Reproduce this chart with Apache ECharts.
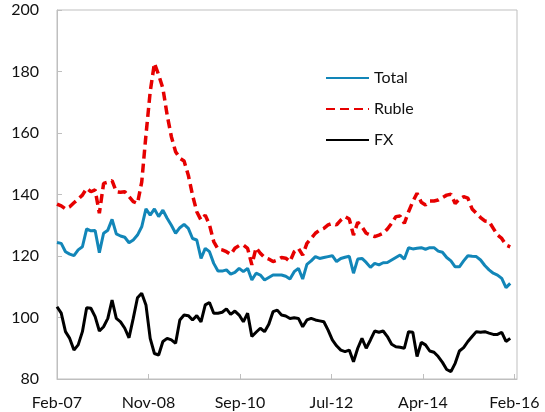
<!DOCTYPE html>
<html>
<head>
<meta charset="utf-8">
<script src="https://cdn.jsdelivr.net/npm/echarts@6/dist/echarts.min.js"></script>
<style>
  html, body { margin: 0; padding: 0; background: #fff; }
  #chart1 { width: 545px; height: 412px; }
</style>
</head>
<body>
<div id="chart1"></div>
<script>
// monthly, Feb-07 .. Jan-16 (index 0 = Feb-07)
const tickLabels = ['Feb-07', 'Nov-08', 'Sep-10', 'Jul-12', 'Apr-14', 'Feb-16'];
const tickStep = 21.6; // months between labels

const total = [
  124.4, 124.1, 121.4, 120.6, 120.1, 122.0, 123.0, 128.8, 128.2, 128.3,
  121.1, 127.4, 128.4, 131.9, 127.2, 126.5, 126.1, 124.3, 125.2, 126.8,
  129.5, 135.3, 133.3, 135.3, 132.8, 134.9, 132.3, 130.0, 127.4, 129.2,
  130.3, 129.0, 125.7, 125.2, 119.2, 122.5, 121.4, 117.6, 115.1, 115.1,
  115.5, 114.1, 114.7, 116.0, 114.9, 116.0, 112.2, 114.4, 113.8, 112.2,
  113.0, 113.8, 113.8, 113.8, 113.4, 112.5, 114.9, 116.0, 112.5, 117.3,
  118.4, 119.8, 119.2, 119.5, 119.8, 120.1, 118.2, 119.2, 119.6, 119.9,
  114.4, 119.0, 119.2, 117.9, 116.3, 117.6, 117.1, 117.8, 117.9, 118.7,
  119.5, 120.3, 119.0, 122.7, 122.3, 122.5, 122.7, 122.2, 122.7, 122.7,
  121.6, 121.2, 119.5, 118.4, 116.5, 116.5, 118.4, 120.1, 119.9, 119.8,
  118.7, 116.9, 115.5, 114.4, 113.8, 112.7, 109.7, 111.1
];

const ruble = [
  136.9, 136.3, 135.3, 136.0, 137.3, 138.5, 139.8, 142.0, 140.9, 141.5,
  133.9, 143.6, 144.0, 144.5, 140.9, 140.7, 140.9, 139.3, 137.7, 137.1,
  144.0, 159.3, 173.4, 182.7, 178.9, 174.5, 165.9, 158.8, 153.9, 151.8,
  150.9, 146.3, 139.8, 134.4, 131.7, 133.3, 130.1, 124.7, 122.3, 122.0,
  121.4, 120.5, 122.5, 123.4, 123.6, 122.5, 117.1, 122.7, 120.9, 119.5,
  119.0, 118.2, 118.7, 119.5, 119.3, 118.2, 121.4, 122.5, 120.3, 124.1,
  125.7, 127.4, 128.4, 129.0, 130.1, 130.6, 130.1, 131.7, 132.8, 132.0,
  126.8, 131.0, 129.5, 127.4, 126.8, 126.3, 126.8, 127.4, 128.8, 130.6,
  132.8, 133.0, 130.6, 134.4, 137.7, 140.4, 137.5, 136.6, 137.9, 137.9,
  138.2, 139.0, 139.8, 140.1, 137.1, 138.5, 139.3, 138.8, 135.3, 133.9,
  132.5, 131.4, 131.2, 129.0, 126.8, 125.7, 123.6, 123.0
];

const fx = [
  103.5, 101.4, 95.4, 93.2, 89.4, 91.1, 95.4, 103.2, 103.0, 100.3,
  95.6, 97.0, 99.7, 105.7, 99.7, 98.6, 96.5, 93.4, 99.7, 106.4,
  107.9, 104.1, 93.2, 88.3, 87.8, 92.2, 93.2, 92.7, 91.6, 99.2,
  100.8, 100.6, 99.2, 100.6, 98.6, 104.1, 104.9, 101.4, 101.4, 101.7,
  102.8, 101.0, 102.1, 100.8, 98.6, 101.4, 93.8, 95.2, 96.5, 95.4,
  97.8, 101.9, 102.4, 100.8, 100.5, 99.7, 99.9, 99.7, 97.0, 99.2,
  99.7, 99.2, 98.9, 98.6, 95.9, 92.7, 90.8, 89.4, 88.9, 89.4,
  85.6, 90.0, 93.2, 90.0, 92.7, 95.6, 95.2, 95.6, 93.8, 91.3,
  90.5, 90.3, 90.0, 95.4, 95.2, 87.3, 91.9, 91.1, 89.1, 88.7,
  87.3, 85.4, 83.1, 82.4, 85.1, 89.1, 90.2, 92.2, 93.8, 95.4,
  95.2, 95.4, 94.9, 94.5, 94.5, 95.2, 92.2, 93.2
];

const FONT = 'Lato';
const AXIS_GREY = '#bfbfbf';

const toPoints = (arr) => arr.map((v, i) => [i, v]);

const getOption = () => {
  return {
    animation: false,
    textStyle: { fontFamily: FONT },
    grid: {
      left: 57, right: 28, top: 10, bottom: 33,
      show: true, borderColor: AXIS_GREY, borderWidth: 1
    },
    legend: {
      orient: 'vertical',
      left: 325,
      top: 70,
      padding: 0,
      itemWidth: 43,
      itemHeight: 14,
      itemGap: 15,
      itemStyle: { color: 'rgba(0,0,0,0)', borderWidth: 0 },
      textStyle: { fontFamily: FONT, fontSize: 16, color: '#111' },
      data: ['Total', 'Ruble', 'FX']
    },
    xAxis: {
      type: 'value',
      min: 0,
      max: 108.6,
      interval: tickStep,
      axisLine: { lineStyle: { color: AXIS_GREY } },
      axisTick: { inside: true, length: 5, lineStyle: { color: AXIS_GREY } },
      splitLine: { show: false },
      axisLabel: {
        margin: 16,
        fontSize: 16,
        color: '#111',
        fontFamily: FONT,
        showMaxLabel: false,
        formatter: (v) => {
          const k = v / tickStep;
          return Math.abs(k - Math.round(k)) < 0.01 ? (tickLabels[Math.round(k)] || '') : '';
        }
      }
    },
    yAxis: {
      type: 'value',
      min: 80,
      max: 200,
      interval: 20,
      axisLine: { show: true, lineStyle: { color: AXIS_GREY } },
      axisTick: { show: true, inside: true, length: 5, lineStyle: { color: AXIS_GREY } },
      splitLine: { show: false },
      axisLabel: { margin: 18, fontSize: 16, color: '#111', fontFamily: FONT }
    },
    series: [
      {
        name: 'Total', type: 'line', symbol: 'none',
        data: toPoints(total),
        lineStyle: { color: '#1286b8', width: 3 },
        itemStyle: { color: '#1286b8' }
      },
      {
        name: 'Ruble', type: 'line', symbol: 'none',
        data: toPoints(ruble),
        lineStyle: { color: '#e60000', width: 3.5, type: [9, 5] },
        itemStyle: { color: '#e60000' }
      },
      {
        name: 'FX', type: 'line', symbol: 'none',
        data: toPoints(fx),
        lineStyle: { color: '#000', width: 3 },
        itemStyle: { color: '#000' }
      }
    ]
  };
};

const initCharts = () => {
  const chart1 = echarts.init(document.getElementById('chart1'));
  chart1.setOption(getOption());
};

window.addEventListener('load', () => {
  initCharts();
});
</script>
</body>
</html>
